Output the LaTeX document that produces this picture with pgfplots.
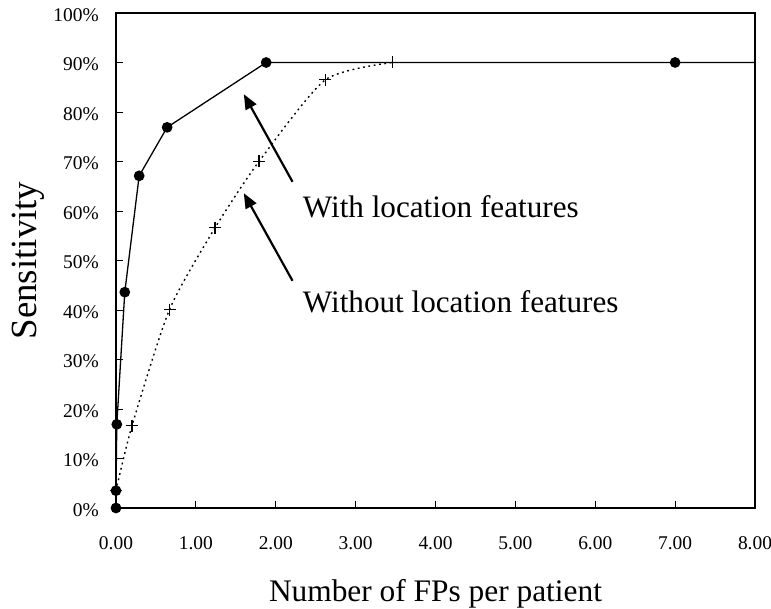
\documentclass[border=0pt]{standalone}
\usepackage{pgfplots}
\pgfplotsset{compat=1.18}
\usepackage{fontspec}
\setmainfont{Liberation Serif}
\usetikzlibrary{arrows.meta}
\begin{document}
\begin{tikzpicture}
\begin{axis}[
  scale only axis,
  width=639bp, height=495bp,
  xmin=0, xmax=8, ymin=0, ymax=100,
  xtick={0,1,...,8},
  ytick={0,10,...,100},
  axis line style={line width=1.5bp},
  tick style={line width=0.9bp, black},
  major tick length=7bp,
  tick align=inside,
  xtick pos=bottom, ytick pos=left,
  /pgf/number format/assume math mode=true,
  xticklabel={\pgfmathprintnumber[fixed,fixed zerofill,precision=2]{\tick}},
  yticklabel={\pgfmathprintnumber[fixed,precision=0]{\tick}\%},
  ticklabel style={font=\fontsize{19.5}{22}\selectfont, inner sep=0pt},
  yticklabel style={anchor=east, xshift=-17bp, yshift=-2bp},
  xticklabel style={anchor=center, yshift=-35.5bp},
  xlabel={Number of FPs per patient},
  ylabel={Sensitivity},
  xlabel style={font=\fontsize{31.5}{36}\selectfont, at={(axis description cs:0.5,-0.1879)}, anchor=base, inner sep=0pt},
  ylabel style={font=\fontsize{37}{42}\selectfont, at={(axis description cs:-0.13772,0.5)}, anchor=center, inner sep=0pt},
  clip=false,
]
% With location features
\addplot[black, line width=1.3bp, mark=*, mark size=4.7bp,
  mark indices={1,2,3,4,5,6,7,8}] coordinates {
  (0,0) (0,3.5) (0.01,16.9) (0.11,43.6) (0.29,67.1) (0.64,76.9) (1.88,90) (7,90) (8,90)
};
% Without location features
\addplot[black, line width=1.4bp, dash pattern=on 1.8bp off 3.6bp, smooth, tension=0.4,
  mark=+, mark size=6bp, mark options={solid, line width=1.2bp}] coordinates {
  (0,3.5) (0.2,16.6) (0.67,40.1) (1.24,56.6) (1.79,70) (2.62,86.5) (3.46,90)
};
\addplot[black, line width=1.3bp, dash pattern=on 5bp off 5bp, no marks] coordinates {
  (3.46,90) (7,90)
};
\draw[line width=2.2bp, -{Triangle[length=15bp,width=12bp]}] (axis cs:2.21,65.9) -- (axis cs:1.60,83.6);
\draw[line width=2.2bp, -{Triangle[length=15bp,width=12bp]}] (axis cs:2.21,45.9) -- (axis cs:1.60,63.6);
\node[anchor=base west, inner sep=0pt, font=\fontsize{31.3}{36}\selectfont] at (axis cs:2.3375,58.6) {With location features};
\node[anchor=base west, inner sep=0pt, font=\fontsize{31.3}{36}\selectfont] at (axis cs:2.3375,39.4) {Without location features};
\coordinate (bbA) at (axis description cs:-0.18153,1.02626);
\coordinate (bbB) at (axis description cs:1.02504,-0.20404);
\end{axis}
\pgfresetboundingbox
\path[use as bounding box] (bbA) rectangle (bbB);
\end{tikzpicture}
\end{document}
